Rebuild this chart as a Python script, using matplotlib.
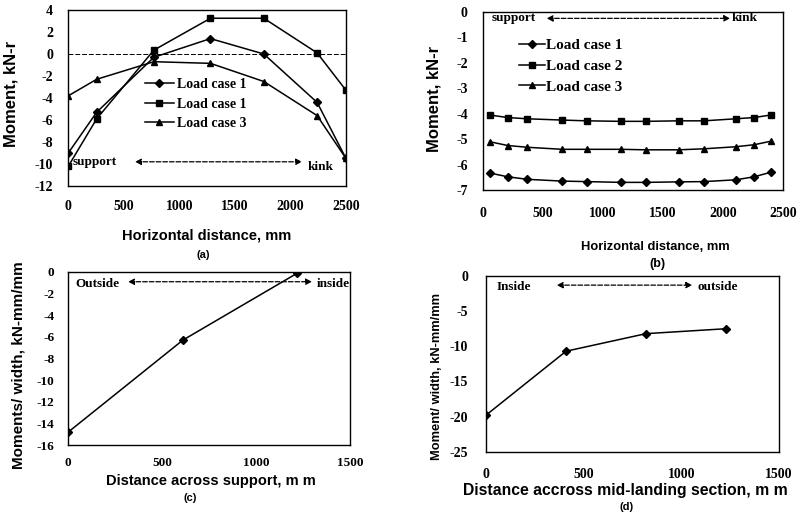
import matplotlib
matplotlib.use("Agg")
import matplotlib.pyplot as plt

plt.rcParams['axes.unicode_minus'] = False
plt.rcParams['font.family'] = 'Liberation Serif'

# (a) moments along horizontal distance
xa = [0, 255, 770, 1280, 1760, 2240, 2500]
a_case1 = [-9.0, -5.3, -0.3, 1.4, 0.0, -4.4, -9.5]
a_case1b = [-10.2, -5.9, 0.35, 3.25, 3.25, 0.1, -3.3]
a_case3 = [-3.8, -2.3, -0.7, -0.85, -2.5, -5.6, -9.5]
a_labels = ['Load case 1', 'Load case 1', 'Load case 3']

# (b)
xb = [55, 205, 370, 660, 865, 1150, 1360, 1630, 1840, 2105, 2260, 2400]
b_case1 = [-6.33, -6.48, -6.58, -6.65, -6.67, -6.7, -6.7, -6.68, -6.67, -6.6, -6.48, -6.3]
b_case2 = [-4.05, -4.15, -4.2, -4.25, -4.28, -4.3, -4.3, -4.28, -4.28, -4.2, -4.15, -4.05]
b_case3 = [-5.1, -5.25, -5.32, -5.4, -5.4, -5.4, -5.42, -5.42, -5.38, -5.3, -5.22, -5.08]
b_labels = ['Load case 1', 'Load case 2', 'Load case 3']

# (c)
xc = [0, 610, 1220]
c_mom = [-14.8, -6.3, -0.1]

# (d)
xd = [0, 410, 820, 1230]
d_mom = [-19.8, -10.7, -8.2, -7.5]

W, H = 803, 515
fig = plt.figure(figsize=(W / 100, H / 100), dpi=100)


def box(l, t, r, b):
    return [l / W, 1 - b / H, (r - l) / W, (b - t) / H]


tickfont = dict(family='Liberation Serif', weight='bold', size=9.5)
labfont = dict(family='Liberation Sans', weight='bold')


def style(ax, xt, yt, xpad, ypad, size=10):
    ax.set_xticks(xt)
    ax.set_yticks(yt)
    ax.set_xlim(xt[0], xt[-1])
    ax.set_ylim(yt[0], yt[-1])
    ax.tick_params(length=0, labelsize=size)
    ax.tick_params(axis='x', pad=xpad)
    ax.tick_params(axis='y', pad=ypad)
    for lab in ax.get_xticklabels() + ax.get_yticklabels():
        lab.set_fontweight('bold')
    for s in ax.spines.values():
        s.set_linewidth(1.0)


def darrow(ax, x0, x1, y):
    ax.annotate('', xy=(x1, y), xytext=(x0, y),
                arrowprops=dict(arrowstyle='<|-|>', lw=0.9, ls='--',
                                color='black', mutation_scale=9,
                                shrinkA=0, shrinkB=0))


lkw = dict(color='black', lw=1.1, ms=5)

# ---- (a)
ax = fig.add_axes(box(68.3, 10, 346, 186))
ax.axhline(0, color='black', lw=0.7, ls=(0, (5, 2)))
ax.plot(xa, a_case1, marker='D', ms=4, color='black', lw=1.1, label=a_labels[0])
ax.plot(xa, a_case1b, marker='s', **lkw, label=a_labels[1])
ax.plot(xa, a_case3, marker='^', **lkw, label=a_labels[2])
style(ax, [0, 500, 1000, 1500, 2000, 2500], list(range(-12, 5, 2)), 10, 11)
ax.legend(loc='upper left', bbox_to_anchor=(0.27, 0.62), frameon=True,
          facecolor='white', edgecolor='none', framealpha=1, fancybox=False,
          borderpad=0.1, borderaxespad=0, handlelength=2.1, handletextpad=0.2,
          labelspacing=0.45, prop=dict(family='Liberation Serif', weight='bold', size=10))
ax.text(40, -9.8, 'support', ha='left', va='center', **tickfont)
ax.text(2157, -10.3, 'kink', ha='left', va='center', **tickfont)
darrow(ax, 600, 2105, -9.8)

# ---- (b)
ax = fig.add_axes(box(483, 12, 783, 190))
ax.plot(xb, b_case1, marker='D', ms=4, color='black', lw=1.1, label=b_labels[0])
ax.plot(xb, b_case2, marker='s', **lkw, label=b_labels[1])
ax.plot(xb, b_case3, marker='^', **lkw, label=b_labels[2])
style(ax, [0, 500, 1000, 1500, 2000, 2500], list(range(-7, 1)), 12, 11)
ax.legend(loc='upper left', bbox_to_anchor=(0.12, 0.85), frameon=False,
          borderpad=0, borderaxespad=0, handlelength=1.7, handletextpad=0.1,
          labelspacing=0.45, prop=dict(family='Liberation Serif', weight='bold', size=11))
ax.text(72, -0.22, 'support', ha='left', va='center', **tickfont)
ax.text(2072, -0.22, 'kink', ha='left', va='center', **tickfont)
darrow(ax, 530, 2060, -0.25)

# ---- (c)
ax = fig.add_axes(box(68.3, 272, 350, 445))
ax.plot(xc, c_mom, marker='D', ms=4, color='black', lw=1.1)
style(ax, [0, 500, 1000, 1500], list(range(-16, 1, 2)), 9, 10, size=9.5)
ax.text(36, -1.1, 'Outside', ha='left', va='center', **tickfont)
ax.text(1324, -1.1, 'inside', ha='left', va='center', **tickfont)
darrow(ax, 318, 1298, -0.9)

# ---- (d)
ax = fig.add_axes(box(486, 276, 779, 451.7))
ax.plot(xd, d_mom, marker='D', ms=4, color='black', lw=1.1)
style(ax, [0, 500, 1000, 1500], list(range(-25, 1, 5)), 12, 13)
ax.text(56, -1.6, 'Inside', ha='left', va='center', **tickfont)
ax.text(1082, -1.6, 'outside', ha='left', va='center', **tickfont)
darrow(ax, 362, 1056, -1.3)

# axis titles, placed by pixel position
def ftext(x, y, s, **kw):
    fig.text(x / W, 1 - y / H, s, ha='center', va='center', **kw)


ftext(207, 235, 'Horizontal distance, mm', size=10.5, **labfont)
ftext(203, 255, '(a)', size=8, **labfont)
ftext(11, 94, 'Moment, kN-r', size=12, rotation=90, **labfont)

ftext(655, 247, 'Horizontal distance, mm', size=9.3, **labfont)
ftext(657, 264, '(b)', size=9, **labfont)
ftext(434, 99, 'Moment, kN-r', size=12, rotation=90, **labfont)

ftext(211, 481, 'Distance across support, m m', size=10.5, **labfont)
ftext(190, 498, '(c)', size=8, **labfont)
ftext(19, 365, 'Moments/ width, kN-mm/mm', size=11, rotation=90, **labfont)

ftext(625, 490, 'Distance accross mid-landing section, m m', size=11.3, **labfont)
ftext(627, 507, '(d)', size=8, **labfont)
ftext(437, 377, 'Moment/ width, kN-mm/mm', size=9.3, rotation=90, **labfont)

fig.savefig('out.png', dpi=100)
